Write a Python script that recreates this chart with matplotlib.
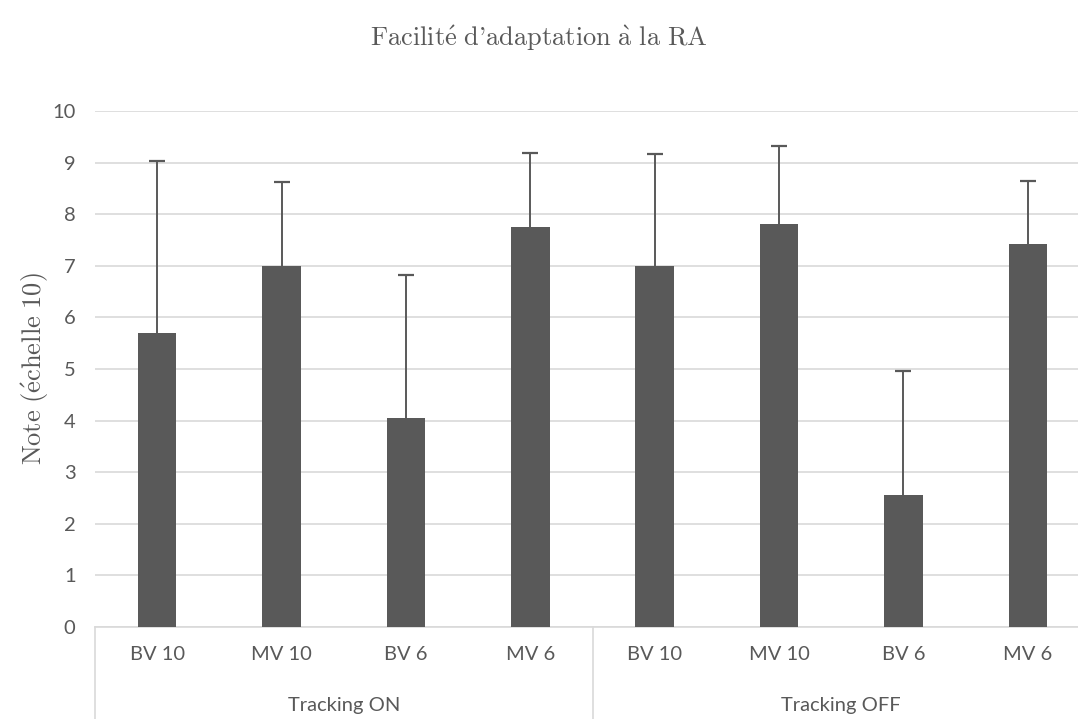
import numpy as np
import matplotlib
matplotlib.use("Agg")
import matplotlib.pyplot as plt
from matplotlib.transforms import offset_copy

# Data
groups = ["Tracking ON", "Tracking OFF"]
conditions = ["BV 10", "MV 10", "BV 6", "MV 6"]
means_on = [5.70, 7.00, 4.06, 7.75]
means_off = [7.00, 7.81, 2.56, 7.43]
err_on = [3.33, 1.63, 2.77, 1.44]
err_off = [2.17, 1.52, 2.41, 1.22]
yticks = list(range(0, 11))

title = r"$\mathrm{Facilit\acute{e}\ d}\text{'}\mathrm{adaptation\ \grave{a}\ la\ RA}$"
ylabel = r"$\mathrm{Note\ (\acute{e}chelle\ 10)}$"

plt.rcParams["mathtext.fontset"] = "cm"
plt.rcParams["font.family"] = ["Lato", "DejaVu Sans"]

bar_color = "#595959"
grid_color = "#d9d9d9"
text_color = "#595959"
tick_size = 14.5

W, H = 1078, 719
fig = plt.figure(figsize=(W / 100, H / 100), dpi=100)
ax = fig.add_axes([95 / W, 92 / H, 995 / W, 516 / H])

means = np.array(means_on + means_off)
errs = np.array(err_on + err_off)
labels = conditions * len(groups)
x = np.arange(len(means))

ax.bar(x, means, width=0.31, color=bar_color, zorder=3)
# upper-only error bars with a cap at the top end
tops = means + errs
ax.vlines(x, means, tops, color=bar_color, linewidth=1.4, zorder=4)
ax.plot(x, tops, linestyle="none", marker="_", markersize=12,
        markeredgewidth=1.6, color=bar_color, zorder=4)

ax.set_xlim(-0.5, len(means) - 0.5)
ax.set_ylim(0, 10)
ax.set_yticks(yticks)
ax.yaxis.grid(True, color=grid_color, linewidth=1.2, zorder=0)
ax.set_axisbelow(True)
for s in ["top", "right", "left"]:
    ax.spines[s].set_visible(False)
ax.spines["bottom"].set_color(grid_color)
ax.spines["bottom"].set_linewidth(1.2)
ax.tick_params(axis="y", length=0, pad=14, labelsize=tick_size,
               labelcolor=text_color)
ax.set_xticks([])

# Two-level category axis
trans = ax.get_xaxis_transform()
lab_tr = offset_copy(trans, fig=fig, y=-27, units="dots")
grp_tr = offset_copy(trans, fig=fig, y=-78, units="dots")
for xi, lab in zip(x, labels):
    ax.text(xi, 0, lab, transform=lab_tr, ha="center", va="center",
            fontsize=tick_size, color=text_color)
n = len(conditions)
for gi, g in enumerate(groups):
    ax.text(gi * n + (n - 1) / 2, 0, g, transform=grp_tr, ha="center",
            va="center", fontsize=tick_size, color=text_color)
for gi in range(len(groups) + 1):
    ax.plot([gi * n - 0.5] * 2, [0, -92 / 516], transform=trans,
            color=grid_color, linewidth=1.2, clip_on=False)

ax.set_ylabel(ylabel, fontsize=19, color=text_color, labelpad=1)
fig.text(0.5, 1 - 38 / H, title, ha="center", va="center", fontsize=19,
         color=text_color)

fig.savefig("out.png", dpi=100)
